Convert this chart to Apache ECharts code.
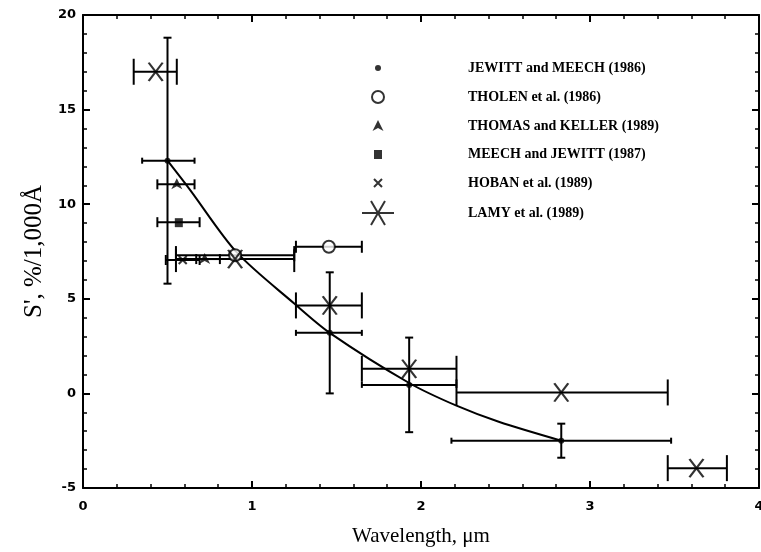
<!DOCTYPE html>
<html>
<head>
<meta charset="utf-8">
<script src="https://cdn.jsdelivr.net/npm/echarts@6/dist/echarts.min.js"></script>
<style>
  html, body { margin: 0; padding: 0; background: #fff; }
  #chart { width: 761px; height: 552px; }
</style>
</head>
<body>
<div id="chart"></div>
<script>
// Spectral gradient S' versus wavelength, several observing campaigns.
// Each set: centre wavelength, S' value, wavelength band limits, S' error limits.

const xTicks = [0, 1, 2, 3, 4];
const yTicks = [-5, 0, 5, 10, 15, 20];

const jewittX   = [0.50, 1.46, 1.93, 2.83];
const jewittY   = [12.3, 3.2, 0.45, -2.5];
const jewittXLo = [0.35, 1.26, 1.65, 2.18];
const jewittXHi = [0.66, 1.65, 2.21, 3.48];
const jewittYLo = [5.8, 0.0, -2.05, -3.4];
const jewittYHi = [18.8, 6.4, 2.95, -1.6];

const tholenX   = [0.90, 1.455];
const tholenY   = [7.3, 7.75];
const tholenXLo = [0.55, 1.26];
const tholenXHi = [1.25, 1.65];

const thomasX   = [0.555, 0.72];
const thomasY   = [11.05, 7.1];
const thomasXLo = [0.44, 0.67];
const thomasXHi = [0.66, 0.81];

const meechX   = [0.567];
const meechY   = [9.05];
const meechXLo = [0.44];
const meechXHi = [0.69];

const hobanX   = [0.59];
const hobanY   = [7.05];
const hobanXLo = [0.49];
const hobanXHi = [0.69];

const lamyX   = [0.43, 0.90, 1.46, 1.93, 2.83, 3.63];
const lamyY   = [17.0, 7.1, 4.65, 1.3, 0.05, -3.95];
const lamyXLo = [0.30, 0.55, 1.26, 1.65, 2.21, 3.46];
const lamyXHi = [0.555, 1.25, 1.65, 2.21, 3.46, 3.81];

// fitted curve through the JEWITT and MEECH points
const fitX = [0.50, 0.63, 0.91, 1.25, 1.46, 1.93, 2.21, 2.46, 2.83];
const fitY = [12.3, 10.8, 7.45, 4.75, 3.2, 0.55, -0.65, -1.5, -2.5];

const names = [
  'JEWITT and MEECH (1986)',
  'THOLEN et al. (1986)',
  'THOMAS and KELLER (1989)',
  'MEECH and JEWITT (1987)',
  'HOBAN et al. (1989)',
  'LAMY et al. (1989)'
];

// marker outlines, drawn at 1:1 pixel scale inside a 26px box
const symDot    = 'path://M0,0M26,26M10,13A3,3,0,1,1,16,13A3,3,0,1,1,10,13Z';
const symCircle = 'path://M0,0M26,26M7,13A6,6,0,1,1,19,13A6,6,0,1,1,7,13Z';
const symTri    = 'path://M0,0M26,26M13,7L18.5,18L13,15L7.5,18Z';
const symSquare = 'path://M0,0M26,26M9,9L17,9L17,18L9,18Z';
const symCross  = 'path://M0,0M26,26M9,9L17,17M17,9L9,17';
const symStar   = 'path://M0,0M34,26M10,1L24,25M24,1L10,25';
const symStarLg = 'path://M0,0M34,26M10,1L24,25M24,1L10,25M1,13L33,13';

const filled  = { color: '#000', borderWidth: 0 };
const stroked = { color: 'rgba(0,0,0,0)', borderColor: '#000', borderWidth: 2 };
const ringed  = { color: '#fff', borderColor: '#000', borderWidth: 2 };

function pts(xs, ys) { return xs.map((x, i) => [x, ys[i]]); }

function bars(xs, ys, xlo, xhi, ylo, yhi) {
  return xs.map((x, i) => [
    x, ys[i],
    xlo ? xlo[i] : '-', xhi ? xhi[i] : '-',
    ylo ? ylo[i] : '-', yhi ? yhi[i] : '-'
  ]);
}

function errorBars(capH, capV) {
  return function (params, api) {
    const y = api.value(1), x = api.value(0);
    const xlo = api.value(2), xhi = api.value(3);
    const ylo = api.value(4), yhi = api.value(5);
    const st = { stroke: '#000', lineWidth: 2, fill: null };
    const kids = [];
    const seg = (x1, y1, x2, y2) => kids.push({ type: 'line', shape: { x1, y1, x2, y2 }, style: st });
    if (!isNaN(xlo) && !isNaN(xhi)) {
      const a = api.coord([xlo, y]), b = api.coord([xhi, y]);
      seg(a[0], a[1], b[0], b[1]);
      seg(a[0], a[1] - capH, a[0], a[1] + capH);
      seg(b[0], b[1] - capH, b[0], b[1] + capH);
    }
    if (!isNaN(ylo) && !isNaN(yhi)) {
      const a = api.coord([x, ylo]), b = api.coord([x, yhi]);
      seg(a[0], a[1], b[0], b[1]);
      seg(a[0] - capV, a[1], a[0] + capV, a[1]);
      seg(b[0] - capV, b[1], b[0] + capV, b[1]);
    }
    return { type: 'group', children: kids };
  };
}

function barSeries(data, capH, capV) {
  return {
    type: 'custom', renderItem: errorBars(capH, capV), data: data,
    encode: { x: 0, y: 1 }, silent: true, z: 2
  };
}

function markSeries(name, data, symbol, style, w) {
  return {
    type: 'scatter', name: name, data: data, symbol: symbol,
    symbolSize: [w || 26, 26], symbolKeepAspect: true,
    itemStyle: style, z: 4, silent: true
  };
}

const tickFont = { fontFamily: 'DejaVu Sans', fontWeight: 'bold', fontSize: 13, color: '#000' };
const axisLine = { show: true, onZero: false, lineStyle: { color: '#000', width: 2 } };

const chart = echarts.init(document.getElementById('chart'), null, { renderer: 'canvas' });

chart.setOption({
  animation: false,
  backgroundColor: '#fff',
  grid: { left: 83, right: 2, top: 15, bottom: 64, containLabel: false, outerBoundsMode: 'none' },
  xAxis: [
    {
      type: 'value', min: xTicks[0], max: xTicks[xTicks.length - 1], interval: 1,
      axisLine: axisLine,
      axisTick: { inside: true, length: 7, lineStyle: { color: '#000', width: 2 } },
      minorTick: { show: true, splitNumber: 5, length: 4, lineStyle: { color: '#000', width: 1.5 } },
      splitLine: { show: false },
      axisLabel: Object.assign({ margin: 12 }, tickFont),
      name: 'Wavelength, \u03bcm', nameLocation: 'middle', nameGap: 38,
      nameTextStyle: { fontFamily: 'Liberation Serif', fontSize: 21, color: '#000' }
    },
    {
      type: 'value', position: 'top', min: xTicks[0], max: xTicks[xTicks.length - 1], interval: 1,
      axisLine: axisLine,
      axisTick: { inside: true, length: 7, lineStyle: { color: '#000', width: 2 } },
      minorTick: { show: true, splitNumber: 5, length: 4, lineStyle: { color: '#000', width: 1.5 } },
      splitLine: { show: false }, axisLabel: { show: false }
    }
  ],
  yAxis: [
    {
      type: 'value', min: yTicks[0], max: yTicks[yTicks.length - 1], interval: 5,
      axisLine: axisLine,
      axisTick: { inside: true, length: 7, lineStyle: { color: '#000', width: 2 } },
      minorTick: { show: true, splitNumber: 5, length: 4, lineStyle: { color: '#000', width: 1.5 } },
      splitLine: { show: false },
      axisLabel: Object.assign({ margin: 7 }, tickFont),
      name: "S', %/1,000\u00c5", nameLocation: 'middle', nameGap: 36,
      nameTextStyle: { fontFamily: 'Liberation Serif', fontSize: 25, color: '#000' }
    },
    {
      type: 'value', position: 'right', min: yTicks[0], max: yTicks[yTicks.length - 1], interval: 5,
      axisLine: axisLine,
      axisTick: { inside: true, length: 7, lineStyle: { color: '#000', width: 2 } },
      minorTick: { show: true, splitNumber: 5, length: 4, lineStyle: { color: '#000', width: 1.5 } },
      splitLine: { show: false }, axisLabel: { show: false }
    }
  ],
  legend: {
    orient: 'vertical', left: 355, top: 50,
    itemWidth: 170, itemHeight: 26, itemGap: 2,
    selectedMode: false,
    textStyle: { fontFamily: 'Liberation Serif', fontWeight: 'bold', fontSize: 14, color: '#000' },
    data: [
      { name: names[0], icon: symDot,    itemStyle: filled },
      { name: names[1], icon: symCircle, itemStyle: ringed },
      { name: names[2], icon: symTri,    itemStyle: filled },
      { name: names[3], icon: symSquare, itemStyle: filled },
      { name: names[4], icon: symCross,  itemStyle: stroked },
      { name: names[5], icon: symStarLg, itemStyle: stroked }
    ]
  },
  series: [
    {
      type: 'line', name: 'fit', data: pts(fitX, fitY), smooth: 0.3,
      showSymbol: false, lineStyle: { color: '#000', width: 2 }, silent: true, z: 3
    },
    barSeries(bars(jewittX, jewittY, jewittXLo, jewittXHi, jewittYLo, jewittYHi), 3, 4),
    barSeries(bars(tholenX, tholenY, tholenXLo, tholenXHi), 6, 4),
    barSeries(bars(thomasX, thomasY, thomasXLo, thomasXHi), 5, 4),
    barSeries(bars(meechX, meechY, meechXLo, meechXHi), 5, 4),
    barSeries(bars(hobanX, hobanY, hobanXLo, hobanXHi), 5, 4),
    barSeries(bars(lamyX, lamyY, lamyXLo, lamyXHi), 13, 4),
    markSeries(names[0], pts(jewittX, jewittY), symDot, filled),
    markSeries(names[1], pts(tholenX, tholenY), symCircle, ringed),
    markSeries(names[2], pts(thomasX, thomasY), symTri, filled),
    markSeries(names[3], pts(meechX, meechY), symSquare, filled),
    markSeries(names[4], pts(hobanX, hobanY), symCross, stroked),
    markSeries(names[5], pts(lamyX, lamyY), symStar, stroked, 34)
  ]
});
</script>
</body>
</html>
